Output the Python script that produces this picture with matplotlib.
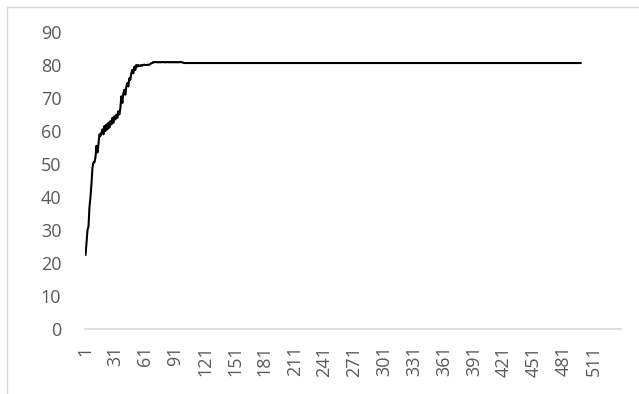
import matplotlib
matplotlib.use("Agg")
import matplotlib.pyplot as plt
from matplotlib.patches import Rectangle

# ---- data ----
early_values = [22.5, 26, 30, 31, 37, 40, 44, 49, 50.5, 50.5, 52, 55.5, 53.5, 56, 59,
                58.5, 59.5, 60.5, 59, 61.5, 60, 62, 60.5, 62.5, 61, 63, 62, 64, 62.5,
                64.5, 63.5, 65, 64, 66, 65, 67,
                70.5, 68.5, 71.5, 72.5, 71, 73.5, 74.5, 73.5, 76, 75.5, 77.5, 78.5,
                77.5, 79.5, 78.5, 80, 79.5, 80, 79.8, 79.7, 80, 79.8,
                80, 80.1, 80, 80, 80.1, 80, 80.1, 80.3, 80.5, 80.6,
                80.9, 80.8, 80.9, 80.9, 80.8, 80.9, 80.8, 80.9, 80.8, 80.9, 80.9, 80.8,
                80.9, 80.8, 80.9, 80.9, 80.8, 80.9, 80.8, 80.9, 80.8, 80.9, 80.8, 80.9,
                80.8, 80.9, 80.8, 80.9, 80.9, 80.8, 80.7, 80.6]
plateau_value = 80.6
n_points = 498
values = early_values + [plateau_value] * (n_points - len(early_values))
x = list(range(1, n_points + 1))
n_categories = 538
xtick_labels = list(range(1, 512, 30))
ytick_values = list(range(0, 91, 10))

plt.rcParams['font.family'] = ['Open Sans', 'DejaVu Sans']

fig = plt.figure(figsize=(6.39, 3.94), dpi=100)
ax = fig.add_axes([85/639, 1 - 329/394, (621-85)/639, (329-32)/394])

ax.plot(x, values, color='black', linewidth=1.5, solid_joinstyle='round')

ax.set_xlim(0.5, n_categories + 0.5)
ax.set_ylim(0, 90)
ax.set_yticks(ytick_values)
ax.set_xticks(xtick_labels)
ax.set_xticklabels([str(v) for v in xtick_labels], rotation=90)

for s in ['top', 'right', 'left']:
    ax.spines[s].set_visible(False)
ax.spines['bottom'].set_color('#d9d9d9')
ax.spines['bottom'].set_linewidth(1.2)

ax.tick_params(axis='y', length=0, pad=17, labelsize=13, labelcolor='#595959')
ax.tick_params(axis='x', length=0, pad=12, labelsize=13, labelcolor='#595959')

# chart border
fig.patches.append(Rectangle((7/639, -0.1), 1.2, 1 - 7/394 + 0.1,
                             transform=fig.transFigure, fill=False,
                             edgecolor='#d9d9d9', linewidth=1.0))

fig.savefig('out.png', dpi=100)
